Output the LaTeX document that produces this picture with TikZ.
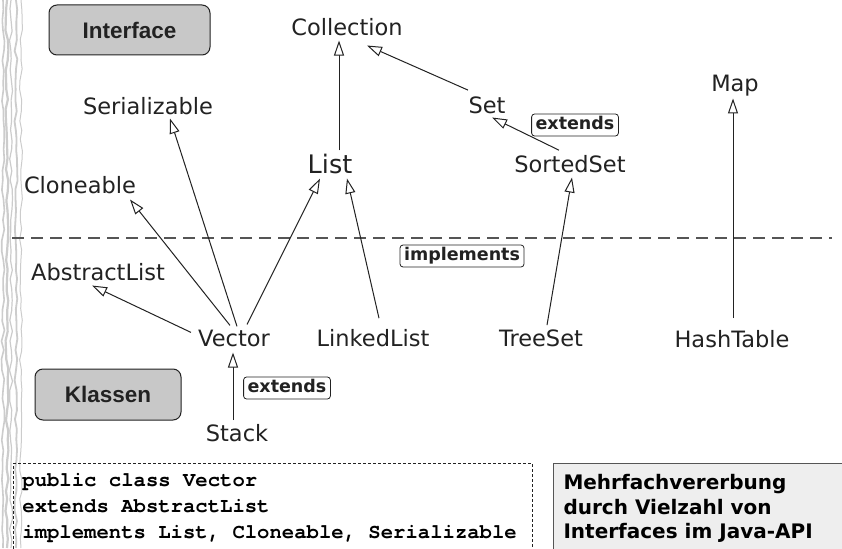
\documentclass[tikz,border=0pt]{standalone}
\usepackage{fontspec}
\setmainfont{DejaVu Sans}
\newfontfamily\labelfont{Liberation Sans}
\newfontfamily\codefont{TeX Gyre Cursor}
\usepackage{tikz}
\usetikzlibrary{arrows.meta,calc,decorations.pathmorphing}
\definecolor{ink}{HTML}{222222}
\definecolor{boxgray}{HTML}{C8C8C8}
\definecolor{notegray}{HTML}{EEEEEE}
\definecolor{rulegray}{HTML}{555555}

\begin{document}
\begin{tikzpicture}[x=1pt,y=-1pt,
		cls/.style={anchor=base,inner sep=0pt,text=ink,font=\fontsize{22.5}{27}\selectfont},
		inh/.style={draw=ink,line width=1pt,-{Triangle[length=15pt,width=10pt,fill=white]}},
		kind/.style={draw=ink,fill=boxgray,rounded corners=8pt,line width=1pt,text=ink,font=\labelfont\bfseries\fontsize{22.5}{27}\selectfont},
		tag/.style={draw=ink,rounded corners=3pt,line width=0.8pt,inner xsep=4pt,inner ysep=2.5pt,text height=13pt,text depth=4pt,text=ink,font=\bfseries\fontsize{17.5}{21}\selectfont}]
		\useasboundingbox (0,0) rectangle (842,548);
		\fill[white] (0,0) rectangle (842,548);
		\pgfmathsetseed{7}
		\foreach \x/\w in {3/1.6,7/2.2,11/1.2,16/1.8,21/1}
			\draw[gray!40,line width=\w pt,decorate,decoration={random steps,segment length=10pt,amplitude=1.5pt}] (\x,0) -- (\x,548);
		\node[kind,minimum width=161pt,minimum height=50pt] (interface) at (129.5,30) {Interface};
		\node[kind,minimum width=146pt,minimum height=51pt] (klassen) at (108,394.5) {Klassen};
		\node[cls] (collection) at (347,36) {Collection};
		\node[cls,font=\fontsize{25.5}{30}\selectfont] (list) at (330,173) {List};
		\node[cls] (set) at (487,114) {Set};
		\node[cls] (sortedset) at (570,172) {SortedSet};
		\node[cls] (map) at (735,92) {Map};
		\node[cls] (serializable) at (148,115) {Serializable};
		\node[cls] (cloneable) at (80,193) {Cloneable};
		\node[cls] (abstractlist) at (98,280) {AbstractList};
		\node[cls] (vector) at (234,346) {Vector};
		\node[cls] (linkedlist) at (373,346) {LinkedList};
		\node[cls] (treeset) at (541,346) {TreeSet};
		\node[cls] (hashtable) at (732,347) {HashTable};
		\node[cls] (stack) at (237,441) {Stack};
		\node[tag] (extendsset) at (575,125) {extends};
		\node[tag] (implements) at (462,256) {implements};
		\node[tag] (extendsstack) at (287,388) {extends};
		\draw[rulegray,line width=2.5pt,dash pattern=on 12pt off 7pt] (12,238) -- (832,238);
		\draw[inh] ($(list.north)+(9,-3)$) -- ($(collection.south)+(-8,4)$);
		\draw[inh] ($(set.north)+(-19,-7)$) -- ($(collection.south)+(20,9)$);
		\draw[inh] ($(sortedset.north)+(-11,-4.5)$) -- ($(set.south)+(5,3)$);
		\draw[inh] ($(treeset.north)+(6,-4)$) -- ($(sortedset.south)+(2,5)$);
		\draw[inh] ($(hashtable.north)+(1,-11.5)$) -- ($(map.south)+(-2,1.6)$);
		\draw[inh] ($(vector.north)+(3,-3)$) -- ($(serializable.south)+(22,3)$);
		\draw[inh] ($(vector.north)+(-4,-4)$) -- ($(cloneable.south)+(50,6)$);
		\draw[inh] ($(vector.north)+(13,-5)$) -- ($(list.south)+(-10,5)$);
		\draw[inh] ($(vector.north west)+(-7,3)$) -- ($(abstractlist.south)+(-6,5)$);
		\draw[inh] ($(linkedlist.north)+(6,-10.5)$) -- ($(list.south)+(17,5)$);
		\draw[inh] ($(stack.north)+(-4,-3.5)$) -- ($(vector.south)+(-1,6)$);
		\node[draw=ink,line width=0.8pt,dash pattern=on 3pt off 2pt,anchor=north west,align=left,text width=501pt,inner xsep=9pt,inner ysep=10pt,text=black,font=\codefont\bfseries\fontsize{20.6}{26}\selectfont] (code) at (13,463) {\spaceskip=0.6em\relax public class Vector\\extends AbstractList\\implements List, Cloneable, Serializable};
		\node[draw=rulegray,fill=notegray,line width=1pt,anchor=north west,align=left,text width=280pt,inner xsep=10pt,inner ysep=11pt,text=black,font=\bfseries\fontsize{20}{24.5}\selectfont] (note) at (553,463) {\spaceskip=0.35em\relax Mehrfachvererbung\\durch Vielzahl von\\Interfaces im Java-API};
	\end{tikzpicture}
\end{document}
